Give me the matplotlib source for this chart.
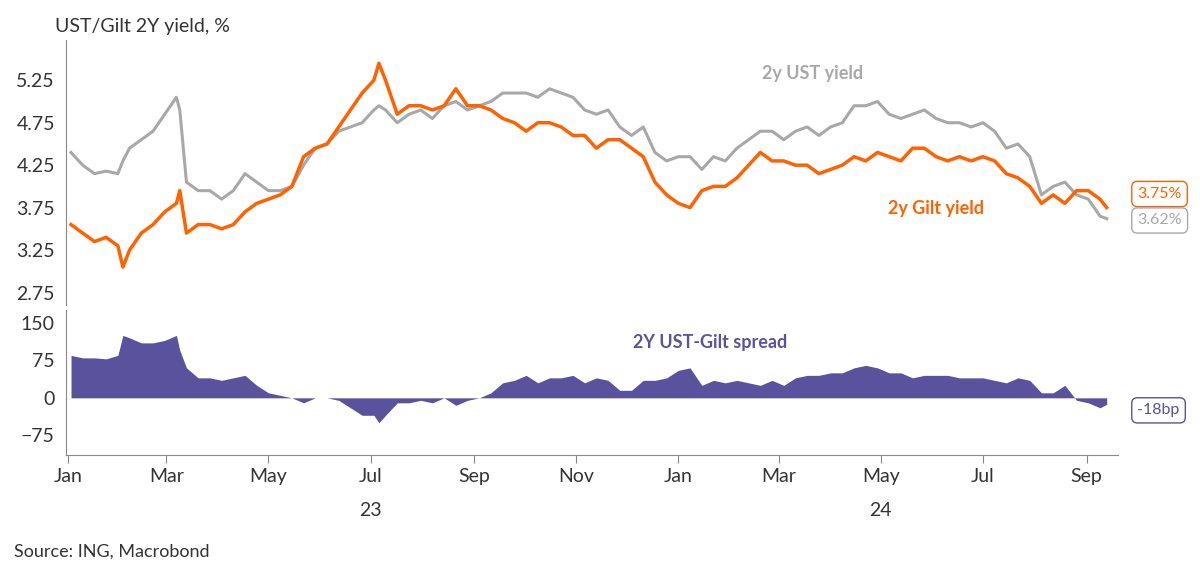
import matplotlib
matplotlib.use("Agg")
import matplotlib.pyplot as plt
import matplotlib.dates as mdates
import numpy as np
import pandas as pd

dates = pd.to_datetime([
    "2023-01-03", "2023-01-10", "2023-01-17", "2023-01-24", "2023-01-31", "2023-02-03",
    "2023-02-07", "2023-02-14", "2023-02-21", "2023-02-28", "2023-03-07", "2023-03-09",
    "2023-03-13", "2023-03-20", "2023-03-27", "2023-04-03", "2023-04-10", "2023-04-17",
    "2023-04-24", "2023-05-01", "2023-05-08", "2023-05-15", "2023-05-22", "2023-05-29",
    "2023-06-05", "2023-06-12", "2023-06-19", "2023-06-26", "2023-07-03", "2023-07-06",
    "2023-07-10", "2023-07-17", "2023-07-24", "2023-07-31", "2023-08-07", "2023-08-14",
    "2023-08-21", "2023-08-28", "2023-09-04", "2023-09-11", "2023-09-18", "2023-09-25",
    "2023-10-02", "2023-10-09", "2023-10-16", "2023-10-23", "2023-10-30", "2023-11-06",
    "2023-11-13", "2023-11-20", "2023-11-27", "2023-12-04", "2023-12-11", "2023-12-18",
    "2023-12-25", "2024-01-01", "2024-01-08", "2024-01-15", "2024-01-22", "2024-01-29",
    "2024-02-05", "2024-02-12", "2024-02-19", "2024-02-26", "2024-03-04", "2024-03-11",
    "2024-03-18", "2024-03-25", "2024-04-01", "2024-04-08", "2024-04-15", "2024-04-22",
    "2024-04-29", "2024-05-06", "2024-05-13", "2024-05-20", "2024-05-27", "2024-06-03",
    "2024-06-10", "2024-06-17", "2024-06-24", "2024-07-01", "2024-07-08", "2024-07-15",
    "2024-07-22", "2024-07-29", "2024-08-05", "2024-08-12", "2024-08-19", "2024-08-26",
    "2024-09-02", "2024-09-09", "2024-09-13",
])

ust_2y = [
    4.40, 4.25, 4.15, 4.18, 4.15, 4.30, 4.45, 4.55, 4.65, 4.85, 5.05, 4.90,
    4.05, 3.95, 3.95, 3.85, 3.95, 4.15, 4.05, 3.95, 3.95, 4.00, 4.25, 4.45,
    4.50, 4.65, 4.70, 4.75, 4.90, 4.95, 4.90, 4.75, 4.85, 4.90, 4.80, 4.95,
    5.00, 4.90, 4.95, 5.00, 5.10, 5.10, 5.10, 5.05, 5.15, 5.10, 5.05, 4.90,
    4.85, 4.90, 4.70, 4.60, 4.70, 4.40, 4.30, 4.35, 4.35, 4.20, 4.35, 4.30,
    4.45, 4.55, 4.65, 4.65, 4.55, 4.65, 4.70, 4.60, 4.70, 4.75, 4.95, 4.95,
    5.00, 4.85, 4.80, 4.85, 4.90, 4.80, 4.75, 4.75, 4.70, 4.75, 4.65, 4.45,
    4.50, 4.35, 3.90, 4.00, 4.05, 3.90, 3.85, 3.65, 3.62,
]

gilt_2y = [
    3.55, 3.45, 3.35, 3.40, 3.30, 3.05, 3.25, 3.45, 3.55, 3.70, 3.80, 3.95,
    3.45, 3.55, 3.55, 3.50, 3.55, 3.70, 3.80, 3.85, 3.90, 4.00, 4.35, 4.45,
    4.50, 4.70, 4.90, 5.10, 5.25, 5.45, 5.25, 4.85, 4.95, 4.95, 4.90, 4.95,
    5.15, 4.95, 4.95, 4.90, 4.80, 4.75, 4.65, 4.75, 4.75, 4.70, 4.60, 4.60,
    4.45, 4.55, 4.55, 4.45, 4.35, 4.05, 3.90, 3.80, 3.75, 3.95, 4.00, 4.00,
    4.10, 4.25, 4.40, 4.30, 4.30, 4.25, 4.25, 4.15, 4.20, 4.25, 4.35, 4.30,
    4.40, 4.35, 4.30, 4.45, 4.45, 4.35, 4.30, 4.35, 4.30, 4.35, 4.30, 4.15,
    4.10, 4.00, 3.80, 3.90, 3.80, 3.95, 3.95, 3.85, 3.75,
]

spread_bp = (np.array(ust_2y) - np.array(gilt_2y)) * 100

ORANGE = "#ff6200"
GREY = "#a8a8a8"
PURPLE = "#5a529c"
TXT = "#333333"

plt.rcParams["font.family"] = ["Lato", "DejaVu Sans"]
fig = plt.figure(figsize=(12, 5.77), dpi=100)
ax1 = fig.add_axes([0.055, 0.471, 0.877, 0.459])
ax2 = fig.add_axes([0.055, 0.211, 0.877, 0.251], sharex=ax1)

ax1.plot(dates, ust_2y, color=GREY, lw=2.2)
ax1.plot(dates, gilt_2y, color=ORANGE, lw=2.5)
ax1.set_ylim(2.6, 5.72)
ax1.set_yticks([2.75, 3.25, 3.75, 4.25, 4.75, 5.25])
ax1.text(pd.Timestamp("2024-02-20"), 5.27, "2y UST yield", color=GREY, fontsize=13, fontweight="bold")
ax1.text(pd.Timestamp("2024-05-05"), 3.68, "2y Gilt yield", color=ORANGE, fontsize=13, fontweight="bold")
ax1.text(-0.01, 1.03, "UST/Gilt 2Y yield, %", transform=ax1.transAxes, fontsize=14, color=TXT)

ax2.fill_between(dates, spread_bp, 0, color=PURPLE, lw=0)
ax2.set_ylim(-115, 175)
ax2.set_yticks([-75, 0, 75, 150])
ax2.text(pd.Timestamp("2023-12-05"), 100, "2Y UST-Gilt spread", color=PURPLE, fontsize=13, fontweight="bold")

for ax in (ax1, ax2):
    for s in ("top", "right"):
        ax.spines[s].set_visible(False)
    ax.tick_params(axis="y", labelsize=14, colors=TXT, length=0, pad=8)
    ax.spines["left"].set_color("#888888")
ax1.spines["bottom"].set_visible(False)
ax1.tick_params(axis="x", length=0, labelbottom=False)
ax2.spines["bottom"].set_color("#888888")

ax2.set_xlim(pd.Timestamp("2022-12-31"), pd.Timestamp("2024-09-20"))
ax2.xaxis.set_major_locator(mdates.MonthLocator(bymonth=[1, 3, 5, 7, 9, 11]))
ax2.xaxis.set_major_formatter(mdates.DateFormatter("%b"))
ax2.tick_params(axis="x", labelsize=14, colors=TXT, length=6, color="#888888")
ax2.text(pd.Timestamp("2023-07-01"), -0.42, "23", transform=ax2.get_xaxis_transform(),
         ha="center", fontsize=14, color=TXT)
ax2.text(pd.Timestamp("2024-05-01"), -0.42, "24", transform=ax2.get_xaxis_transform(),
         ha="center", fontsize=14, color=TXT)

ax1.annotate(f"{gilt_2y[-1]:.2f}%", xy=(1.0, 0.42), xycoords="axes fraction",
             xytext=(1.018, 0.42), fontsize=11.5, color=ORANGE, va="center",
             bbox=dict(boxstyle="round,pad=0.35", fc="white", ec=ORANGE, lw=1))
ax1.annotate(f"{ust_2y[-1]:.2f}%", xy=(1.0, 0.32), xycoords="axes fraction",
             xytext=(1.018, 0.32), fontsize=11.5, color=GREY, va="center",
             bbox=dict(boxstyle="round,pad=0.35", fc="white", ec=GREY, lw=1))
ax2.annotate("-18bp", xy=(1.0, 0.31), xycoords="axes fraction",
             xytext=(1.018, 0.31), fontsize=11.5, color=PURPLE, va="center",
             bbox=dict(boxstyle="round,pad=0.35", fc="white", ec=PURPLE, lw=1))

fig.text(0.012, 0.035, "Source: ING, Macrobond", fontsize=13, color=TXT)
fig.savefig("out.png", dpi=100)
